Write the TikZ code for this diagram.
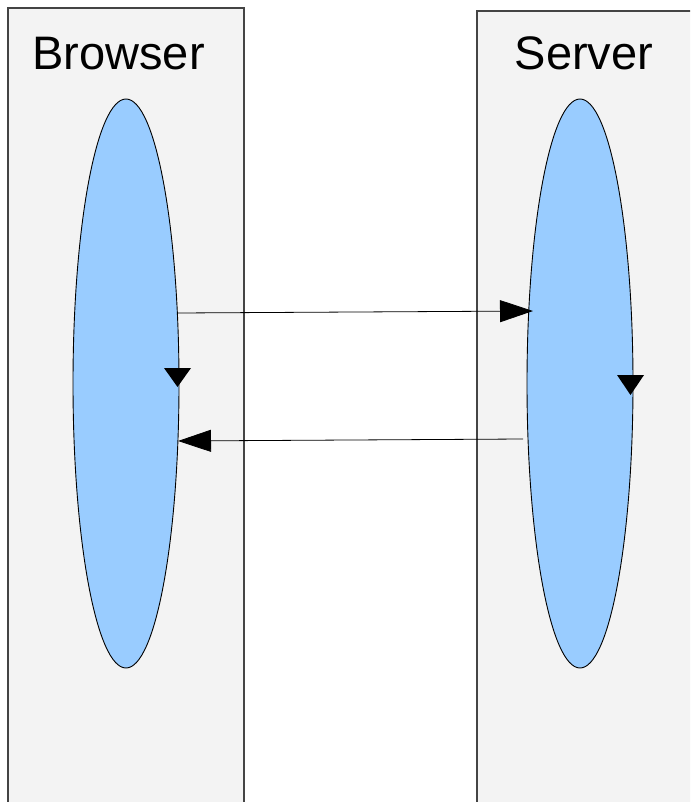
\documentclass[tikz,border=0pt]{standalone}
\usepackage{fontspec}
\setmainfont{Liberation Sans}
\usetikzlibrary{arrows.meta,shapes.geometric}
\definecolor{lanefill}{HTML}{F3F3F3}
\definecolor{laneline}{HTML}{444444}
\definecolor{procfill}{HTML}{99CCFF}
\tikzset{
  lane/.style={fill=lanefill,draw=laneline,line width=1.3pt},
  proc/.style={ellipse,fill=procfill,draw=black,line width=0.9pt,minimum width=106pt,minimum height=569pt,inner sep=0pt},
  title/.style={font=\fontsize{47}{47}\selectfont,anchor=base,inner sep=0pt},
  msg/.style={draw=black,line width=0.8pt,-{Triangle[length=33pt,width=22pt]}},
  tip/.style={fill=black}
}
\begin{document}
\begin{tikzpicture}[x=1pt,y=-1pt]
\useasboundingbox (0,0) rectangle (690,802);
\clip (0,0) rectangle (690,802);
\fill[white] (0,0) rectangle (690,802);
\draw[lane] (8,830) -- (8,8) -- (244,8) -- (244,830);
\draw[lane] (477,830) -- (477,11) -- (720,11) -- (720,830);
\node[title] (browser) at (118.5,70) {Browser};
\node[title] (server) at (584,70) {Server};
\node[proc] (bproc) at (126,383.5) {};
\node[proc] (sproc) at (580,383.5) {};
\coordinate (req0) at (178,313);
\coordinate (req1) at (533,311);
\coordinate (res0) at (523,439);
\coordinate (res1) at (178,441);
\draw[msg] (req0) -- (req1);
\draw[msg] (res0) -- (res1);
\fill[tip] (164,368) -- (191,368) -- (177.5,387) -- cycle;
\fill[tip] (617,375) -- (644,375) -- (630.5,395) -- cycle;
\end{tikzpicture}
\end{document}
